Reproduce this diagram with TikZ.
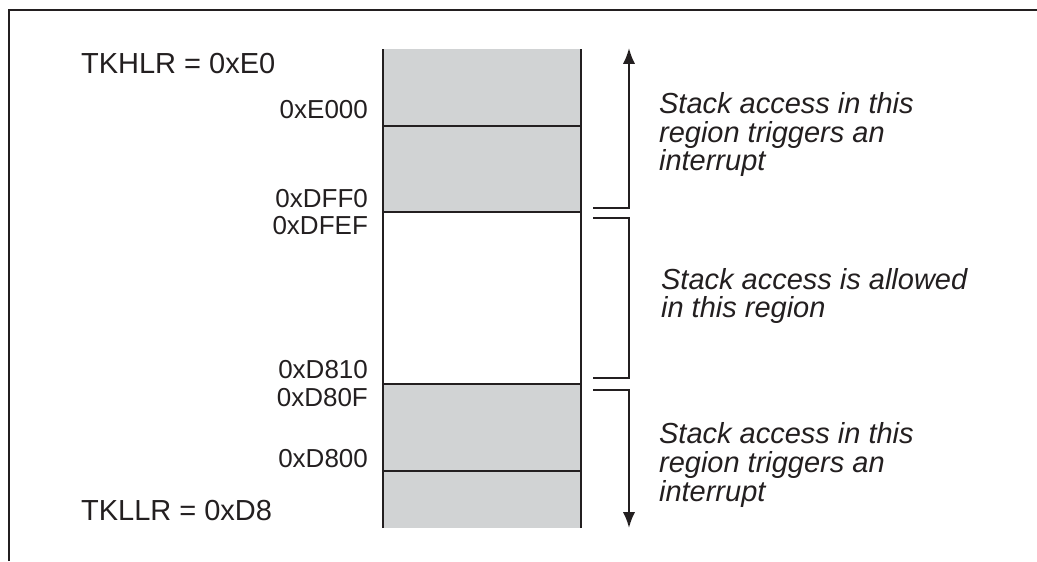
\documentclass[tikz,border=0pt]{standalone}
\usepackage{fontspec}
\setmainfont{Liberation Sans}
\usepackage{tikz}
\usetikzlibrary{arrows.meta}
\definecolor{stackgray}{RGB}{209,211,212}
\definecolor{inkblack}{RGB}{35,31,32}

\begin{document}
\begin{tikzpicture}[
		line width=1.25pt, color=inkblack,
		reglabel/.style={anchor=base west, inner sep=0pt, font=\fontsize{16.5}{16.5}\selectfont},
		hexlabel/.style={anchor=base east, inner sep=0pt, font=\fontsize{14.8}{14.8}\selectfont},
		note/.style={anchor=base west, inner sep=0pt, align=left, font=\fontsize{16.5}{16.5}\selectfont\itshape},
		tip/.style={-{Latex[length=9pt,width=7pt]}}
	]
		\useasboundingbox (0, 0) rectangle (20.74, 11.22);
		
		% frame
		\draw [line width=1.5pt] (0.18, 0) -- (0.18, 11.02) -- (20.74, 11.02);
		
		% stack column
		\fill [stackgray] (7.66, 6.98) rectangle (11.62, 10.24);
		\fill [stackgray] (7.66, 0.66) rectangle (11.62, 3.54);
		\draw (7.66, 0.66) -- (7.66, 10.24);
		\draw (11.62, 0.66) -- (11.62, 10.24);
		\draw (7.66, 8.70) -- (11.62, 8.70);
		\draw (7.66, 6.98) -- (11.62, 6.98);
		\draw (7.66, 3.54) -- (11.62, 3.54);
		\draw (7.66, 1.80) -- (11.62, 1.80);
		
		% region brackets
		\draw [tip] (11.86, 7.06) -- (12.58, 7.06) -- (12.58, 10.26);
		\draw (11.86, 6.86) -- (12.58, 6.86) -- (12.58, 3.66) -- (11.86, 3.66);
		\draw [tip] (11.86, 3.42) -- (12.58, 3.42) -- (12.58, 0.66);
		
		% register values
		\node [reglabel] (tkhlr) at (1.6, 9.74) {TKHLR = 0xE0};
		\node [reglabel] (tkllr) at (1.6, 0.80) {TKLLR = 0xD8};
		
		% addresses
		\node [hexlabel] (e000) at (7.38, 8.84) {0xE000};
		\node [hexlabel] (dff0) at (7.38, 7.06) {0xDFF0};
		\node [hexlabel] (dfef) at (7.38, 6.52) {0xDFEF};
		\node [hexlabel] (d810) at (7.38, 3.66) {0xD810};
		\node [hexlabel] (d80f) at (7.38, 3.10) {0xD80F};
		\node [hexlabel] (d800) at (7.38, 1.88) {0xD800};
		
		% region notes (anchored on the last line)
		\node [note] (upper) at (13.16, 7.80) {Stack access in this\\region triggers an\\interrupt};
		\node [note] (middle) at (13.2, 4.86) {Stack access is allowed\\in this region};
		\node [note] (lower) at (13.16, 1.20) {Stack access in this\\region triggers an\\interrupt};

	\end{tikzpicture}
\end{document}
